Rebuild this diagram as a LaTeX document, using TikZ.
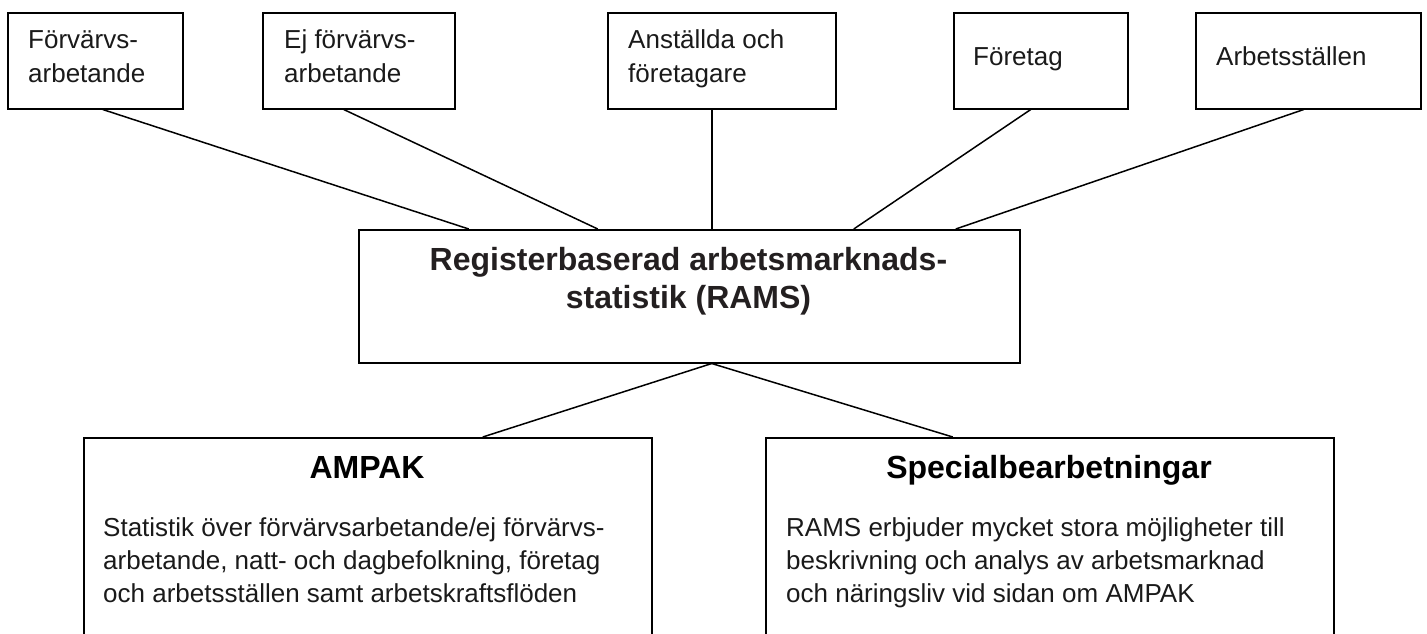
\documentclass[tikz,border=0pt]{standalone}
\usepackage{fontspec}
\setmainfont{Liberation Sans}
\definecolor{ink}{HTML}{231F20}
\definecolor{txt}{HTML}{1A1A1A}
\begin{document}
\begin{tikzpicture}[x=1pt,y=-1pt,
  box/.style={draw=black,line width=1.5pt,inner sep=0pt,anchor=north west},
  conn/.style={draw=black,line width=1.5pt},
  lbl/.style={inner sep=0pt,anchor=base west,text=txt,font=\fontsize{26}{34}\selectfont},
  head/.style={inner sep=0pt,anchor=base,text=ink,font=\fontsize{32}{38}\selectfont\bfseries},
  tit/.style={inner sep=0pt,anchor=base,text=black,font=\fontsize{32}{38}\selectfont\bfseries}]
\useasboundingbox (0,0) rectangle (1427,633);
% top boxes
\node[box,minimum width=175pt,minimum height=96pt] (b1) at (7,12) {};
\node[box,minimum width=192pt,minimum height=96pt] (b2) at (262,12) {};
\node[box,minimum width=228pt,minimum height=96pt] (b3) at (607,12) {};
\node[box,minimum width=174pt,minimum height=96pt] (b4) at (953,12) {};
\node[box,minimum width=225pt,minimum height=96pt] (b5) at (1195,12) {};
\node[lbl] (t1a) at (28,48) {Förvärvs-};
\node[lbl] (t1b) at (28,82) {arbetande};
\node[lbl] (t2a) at (284,48) {Ej förvärvs-};
\node[lbl] (t2b) at (284,82) {arbetande};
\node[lbl] (t3a) at (628,48) {Anställda och};
\node[lbl] (t3b) at (628,82) {företagare};
\node[lbl] (t4) at (973,65) {Företag};
\node[lbl] (t5) at (1216,65) {Arbetsställen};
% main box
\node[box,minimum width=661pt,minimum height=133pt] (m) at (358,229) {};
\node[head] (m1) at (688.5,270) {Registerbaserad arbetsmarknads-};
\node[head] (m2) at (688.5,308) {statistik (RAMS)};
% bottom boxes (open at the bottom edge of the picture)
\node[box,minimum width=568pt,minimum height=230pt] (l) at (83,437) {};
\node[box,minimum width=568pt,minimum height=230pt] (r) at (765,437) {};
\node[tit] (lt) at (367,478) {AMPAK};
\node[tit] (rt) at (1049,478) {Specialbearbetningar};
\node[lbl] (l1) at (103,536) {Statistik över förvärvsarbetande/ej förvärvs-};
\node[lbl] (l2) at (103,569) {arbetande, natt- och dagbefolkning, företag};
\node[lbl] (l3) at (103,602) {och arbetsställen samt arbetskraftsflöden};
\node[lbl] (r1) at (786,536) {RAMS erbjuder mycket stora möjligheter till};
\node[lbl] (r2) at (786,569) {beskrivning och analys av arbetsmarknad};
\node[lbl] (r3) at (786,602) {och näringsliv vid sidan om AMPAK};
% connectors
\draw[conn] ([xshift=7.5pt]b1.south) -- ([xshift=-220.5pt]m.north);
\draw[conn] ([xshift=-15pt]b2.south) -- ([xshift=-91.5pt]m.north);
\draw[conn] ([xshift=-10pt]b3.south) -- ([xshift=22.5pt]m.north);
\draw[conn] ([xshift=-10pt]b4.south) -- ([xshift=164.5pt]m.north);
\draw[conn] ([xshift=-4.5pt]b5.south) -- ([xshift=266.5pt]m.north);
\draw[conn] ([xshift=22.5pt]m.south) -- ([xshift=115pt]l.north);
\draw[conn] ([xshift=22.5pt]m.south) -- ([xshift=-97pt]r.north);
\end{tikzpicture}
\end{document}
